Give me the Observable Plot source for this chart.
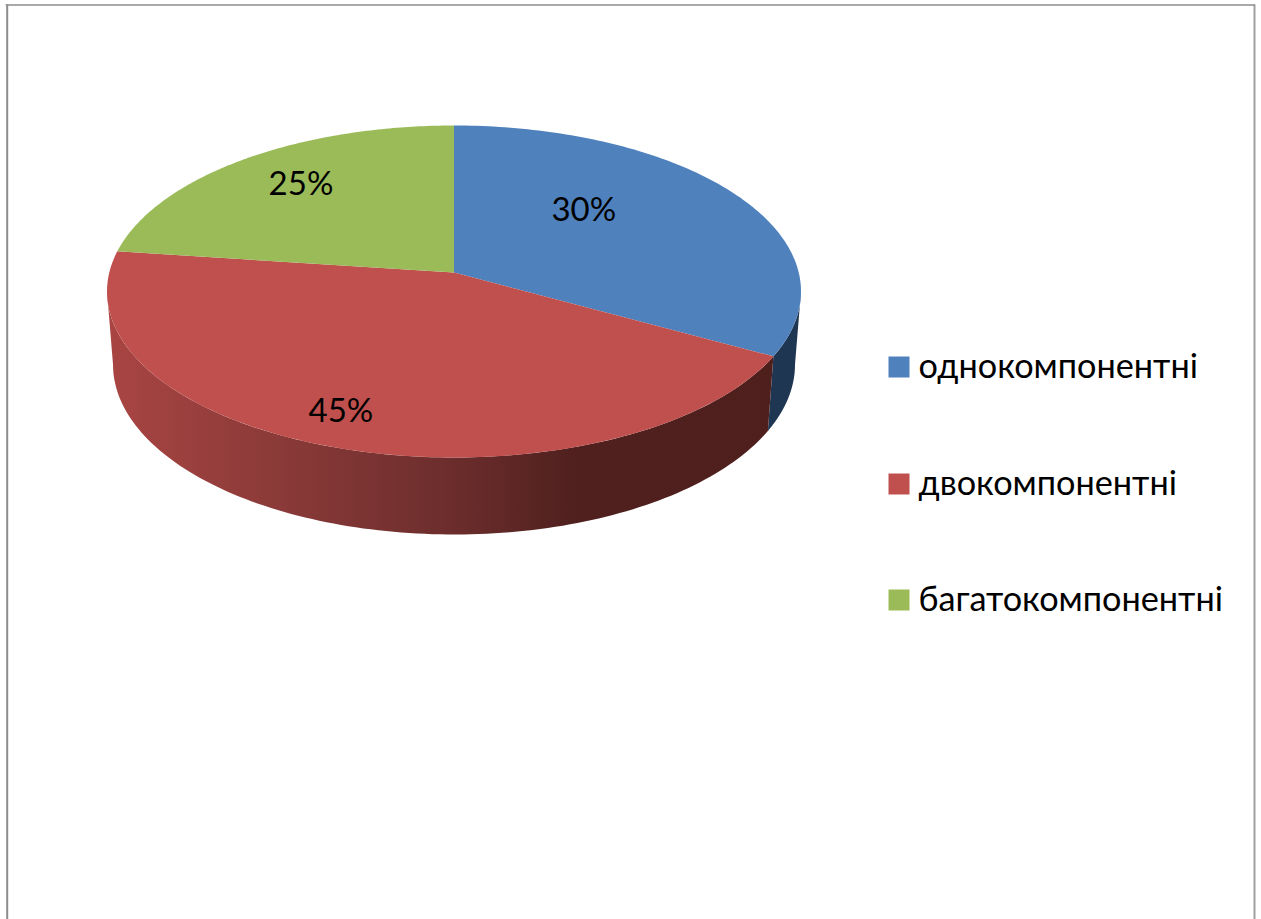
<!DOCTYPE html>
<html lang="uk">
<head>
<meta charset="utf-8">
<title>Склад</title>
<style>
  html, body { margin: 0; padding: 0; background: #fff; }
  svg { display: block; }
</style>
<script src="https://cdn.jsdelivr.net/npm/d3@7"></script>
<script src="https://cdn.jsdelivr.net/npm/@observablehq/plot@0.6"></script>
</head>
<body>
<script>
// Chart data
const categories = ["однокомпонентні", "двокомпонентні", "багатокомпонентні"];
const shares = [30, 45, 25];
const colors = ["#4f81bd", "#c0504d", "#9bbb59"];

// Layout of the tilted pie, in SVG pixels
const W = 1261, H = 919;
const top_ = {cx: 453.5, cy: 291, rx: 347, ry: 166};
const bottom = {cx: 453.5, cy: 364, rx: 341, ry: 170};
const apex = [453.5, 272];
const labelNudge = [[-36.5, -26], [-67, 55], [-19, -21]];
const legendX = 898.5, legendTextX = 918, legendY = [366.5, 483.5, 599.5];
const fontFamily = "Lato, 'Noto Sans', sans-serif";

// Cumulative share to angle on the tilted rim; the knots carry the foreshortening
// of the perspective view, so each slice still starts and ends at its own value.
const cumulative = [0, ...d3.cumsum(shares)];
const rimAngle = d3.scaleLinear().domain(cumulative).range([0, 113, 284, 360]);

const rim = (e, deg) => {
  const a = deg * Math.PI / 180;
  return [e.cx + e.rx * Math.sin(a), e.cy - e.ry * Math.cos(a)];
};
const arc = (e, from, to) => d3.range(0, 121).map(i => rim(e, from + (to - from) * i / 120));

const slices = categories.map((name, i) => {
  const from = rimAngle(cumulative[i]), to = rimAngle(cumulative[i + 1]);
  return {name, points: [apex, ...arc(top_, from, to)], from, to};
});
const labels = slices.map((s, i) => {
  const [x, y] = d3.polygonCentroid(s.points);
  return {x: x + labelNudge[i][0], y: y + labelNudge[i][1], text: `${shares[i]}%`};
});
const faces = slices.flatMap(s => s.points.map(([x, y]) => ({name: s.name, x, y})));

// Outer wall: upper rim one way, lower rim back, limited to the front half of the pie
const wall = (from, to) => {
  const a = Math.max(from, 90), b = Math.min(to, 270);
  return [...arc(top_, a, b), ...arc(bottom, b, a)].map(([x, y]) => ({x, y}));
};
const blueWall = wall(slices[0].from, slices[0].to);
const redWall = wall(slices[1].from, slices[1].to);

// Shading of the lit side of the wall
const wallGradient = () => {
  const defs = d3.create("svg:defs");
  const g = defs.append("linearGradient").attr("id", "wallShade")
    .attr("gradientUnits", "userSpaceOnUse")
    .attr("x1", 107).attr("x2", 800).attr("y1", 0).attr("y2", 0);
  [[0, "#a94543"], [0.25, "#8a3a38"], [0.5, "#6b2d2c"], [0.68, "#4f201e"], [1, "#4f1f1e"]]
    .forEach(([o, c]) => g.append("stop").attr("offset", o).attr("stop-color", c));
  return defs.node();
};

const chart = Plot.plot({
  width: W, height: H,
  margin: 0,
  style: {background: "#fff", fontFamily},
  x: {domain: [0, W], range: [0, W], axis: null},
  y: {domain: [0, H], range: [0, H], axis: null},
  color: {domain: categories, range: colors},
  marks: [
    wallGradient,
    // Chart area border
    Plot.ruleX([6.7], {y1: 4.6, y2: H, stroke: "#8c8c8c", strokeWidth: 2}),
    Plot.ruleX([1254], {y1: 4.6, y2: H, stroke: "#a0a0a0", strokeWidth: 2}),
    Plot.ruleY([4.6], {x1: 5.7, x2: 1255, stroke: "#8c8c8c", strokeWidth: 1.5}),
    // Walls, then the top faces
    Plot.line(blueWall, {x: "x", y: "y", fill: "#1f3652", stroke: "none"}),
    Plot.line(redWall, {x: "x", y: "y", fill: "url(#wallShade)", stroke: "none"}),
    Plot.line(faces, {x: "x", y: "y", z: "name", fill: "name", stroke: "none"}),
    // Share labels
    Plot.text(labels, {x: "x", y: "y", text: "text", fontSize: 33, fill: "#000"}),
    // Legend
    Plot.dot(categories, {
      x: () => legendX, y: (d, i) => legendY[i], fill: d => d,
      symbol: "square", r: 11.85, stroke: "none"
    }),
    Plot.text(categories, {
      x: () => legendTextX, y: (d, i) => legendY[i], text: d => d,
      textAnchor: "start", fontSize: 34.25, fill: "#000"
    })
  ]
});
document.body.append(chart);
</script>
</body>
</html>
